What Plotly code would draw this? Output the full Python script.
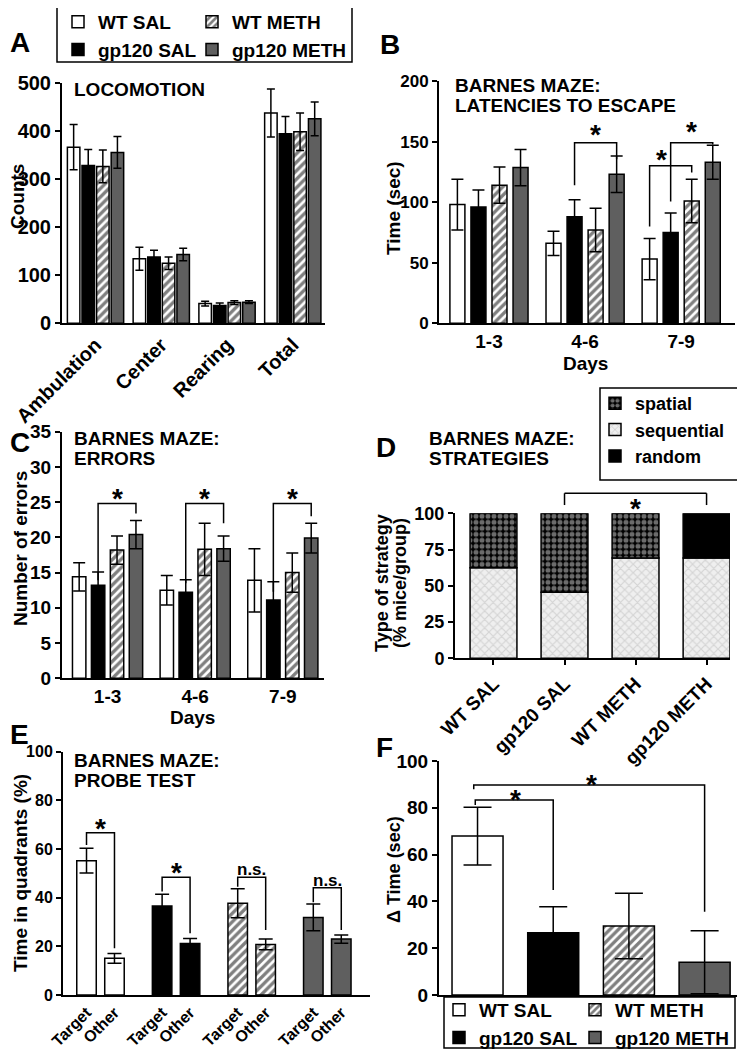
import plotly.graph_objects as go

OFF = 8  # the page body margin shifts the figure by this much
W, H = 737, 1042
FONT = "Arial, 'Liberation Sans', Helvetica, sans-serif"


def fx(px):
    return (px - OFF) / W


def fy(py):
    return 1 - (py - OFF) / H


group_names = ["WT SAL", "gp120 SAL", "WT METH", "gp120 METH"]

# ---------------- A: locomotion ----------------
loco_cats = ["Ambulation", "Center", "Rearing", "Total"]
loco_wt_sal = [366, 134, 41, 437]
loco_wt_sal_err = [47, 24, 5, 50]
loco_gp_sal = [328, 138, 37, 394]
loco_gp_sal_err = [33, 14, 5, 36]
loco_wt_meth = [326, 125, 43, 398]
loco_wt_meth_err = [34, 13, 4, 39]
loco_gp_meth = [355, 143, 44, 425]
loco_gp_meth_err = [33, 13, 3, 35]

# ---------------- B: latencies ----------------
day_cats = ["1-3", "4-6", "7-9"]
lat_wt_sal = [98, 66, 53]
lat_wt_sal_err = [21, 10, 17]
lat_gp_sal = [96, 88, 75]
lat_gp_sal_err = [14, 14, 16]
lat_wt_meth = [114, 77, 101]
lat_wt_meth_err = [15, 18, 18]
lat_gp_meth = [128.5, 123, 133]
lat_gp_meth_err = [15, 15, 14]

b_sig_group = [1, 2, 2]
b_sig_left_bar = [1, 0, 1]
b_sig_right_bar = [3, 2, 3]
b_sig_left_y = [114, 80, 100.5]
b_sig_top_y = [149, 130, 149]
b_sig_right_y = [135.5, 124.5, 147.5]
b_star_y = [161, 140, 163]
b_star_dx = [0, -0.1, 0]

# ---------------- C: errors ----------------
err_wt_sal = [14.4, 12.5, 13.9]
err_wt_sal_sem = [2.0, 2.1, 4.5]
err_gp_sal = [13.2, 12.2, 11.1]
err_gp_sal_sem = [1.9, 1.8, 2.6]
err_wt_meth = [18.2, 18.3, 15.0]
err_wt_meth_sem = [2.0, 3.7, 2.8]
err_gp_meth = [20.4, 18.4, 19.9]
err_gp_meth_sem = [2.0, 1.8, 2.1]

c_sig_left_y = [13.9, 13.5, 12.3]
c_sig_top_y = [24.8, 24.8, 24.8]
c_sig_right_y = [23.4, 22.0, 23.0]
c_star_y = [26.4, 26.4, 26.4]

# ---------------- D: strategies ----------------
strat_sequential = [62.5, 45.5, 69.2, 69.2]
strat_spatial = [37.5, 54.5, 30.8, None]
strat_random = [None, None, None, 30.8]
d_sig = dict(left=1, right=3, yl=105.7, top=113.8, yr=105.7, star=119.5)

# ---------------- E: probe test ----------------
probe_ticks = ["Target", "Other"]
probe_target = [55.2, 36.6, 37.7, 31.9]
probe_target_err = [5.1, 4.8, 6.0, 5.5]
probe_other = [15.1, 21.2, 20.8, 23.0]
probe_other_err = [2.0, 2.0, 2.2, 1.7]

e_sig_left_y = [61.7, 42.5, 44.5, 38.1]
e_sig_top_y = [66.7, 48.4, 48.4, 44.1]
e_sig_right_y = [19.2, 25.4, 26.7, 26.7]
e_sig_label = ["*", "*", "n.s.", "n.s."]
e_sig_label_y = [70.7, 52.7, 51.4, 47.0]

# ---------------- F: delta time ----------------
delta_mean = [67.9, 26.6, 29.5, 14.0]
delta_err = [12.3, 11.1, 14.0, 13.5]
f_sig_left = [0, 0]
f_sig_right = [1, 3]
f_sig_left_dx = [-0.03, -0.05]
f_sig_left_y = [81.2, 87.9]
f_sig_top_y = [83.3, 89.7]
f_sig_right_y = [44.9, 35.6]
f_star_y = [86.3, 92.7]

GRAY = "#5f5f5f"


def bar_marker(g):
    line = dict(color="black", width=1.5)
    if g == "WT SAL":
        return dict(color="white", line=line)
    if g == "gp120 SAL":
        return dict(color="black", line=line)
    if g == "WT METH":
        return dict(color="white", line=line,
                    pattern=dict(shape="/", fgcolor="black", bgcolor="white",
                                 size=6, solidity=0.55))
    return dict(color=GRAY, line=line)


def eb(arr, w):
    return dict(type="data", array=arr, visible=True, color="black",
                thickness=1.5, width=w)


fig = go.Figure()


def add_grouped(series, errors, xa, ya, stride, width, capw, legends=None):
    n = len(series[0])
    for k, g in enumerate(group_names):
        kw = {}
        if legends:
            kw["legend"] = legends[k]
        fig.add_trace(go.Bar(
            x=list(range(n)), y=series[k], name=g,
            width=width, offset=(k - 1.5) * stride - width / 2,
            marker=bar_marker(g), error_y=eb(errors[k], capw),
            xaxis=xa, yaxis=ya, showlegend=bool(legends),
            hoverinfo="skip", **kw))


def add_bracket(xa, ya, xl, xr, yl, ytop, yr):
    fig.add_trace(go.Scatter(
        x=[xl, xl, xr, xr], y=[yl, ytop, ytop, yr], mode="lines",
        line=dict(color="black", width=1.5), xaxis=xa, yaxis=ya,
        showlegend=False, hoverinfo="skip"))


def add_label(xref, yref, x, y, text="*", size=28, yshift=-6):
    fig.add_annotation(x=x, y=y, xref=xref, yref=yref, text=text,
                       showarrow=False, yshift=yshift,
                       font=dict(size=size, family=FONT, weight="bold",
                                 color="black"))


# A
A_STRIDE, A_W = 0.222, 0.19
add_grouped([loco_wt_sal, loco_gp_sal, loco_wt_meth, loco_gp_meth],
            [loco_wt_sal_err, loco_gp_sal_err, loco_wt_meth_err, loco_gp_meth_err],
            "x", "y", A_STRIDE, A_W, 4,
            legends=["legend", "legend", "legend2", "legend2"])

# B
B_STRIDE, B_W = 0.219, 0.156
add_grouped([lat_wt_sal, lat_gp_sal, lat_wt_meth, lat_gp_meth],
            [lat_wt_sal_err, lat_gp_sal_err, lat_wt_meth_err, lat_gp_meth_err],
            "x2", "y2", B_STRIDE, B_W, 6)
for i, g in enumerate(b_sig_group):
    xl = g + (b_sig_left_bar[i] - 1.5) * B_STRIDE
    xr = g + (b_sig_right_bar[i] - 1.5) * B_STRIDE
    add_bracket("x2", "y2", xl, xr, b_sig_left_y[i], b_sig_top_y[i], b_sig_right_y[i])
    add_label("x2", "y2", (xl + xr) / 2 + b_star_dx[i], b_star_y[i])

# C
C_STRIDE, C_W = 0.216, 0.153
add_grouped([err_wt_sal, err_gp_sal, err_wt_meth, err_gp_meth],
            [err_wt_sal_sem, err_gp_sal_sem, err_wt_meth_sem, err_gp_meth_sem],
            "x3", "y3", C_STRIDE, C_W, 6)
for g in range(len(day_cats)):
    xl = g + (1 - 1.5) * C_STRIDE
    xr = g + (3 - 1.5) * C_STRIDE
    add_bracket("x3", "y3", xl, xr, c_sig_left_y[g], c_sig_top_y[g], c_sig_right_y[g])
    add_label("x3", "y3", (xl + xr) / 2, c_star_y[g])

# D
D_W = 0.66
spatial_base = strat_sequential
random_base = [s + (p or 0) for s, p in zip(strat_sequential, strat_spatial)]
dline = dict(color="black", width=1.5)
fig.add_trace(go.Bar(
    x=list(range(4)), y=strat_sequential, name="sequential", width=D_W,
    offset=-D_W / 2, xaxis="x4", yaxis="y4", legend="legend3", legendrank=2,
    marker=dict(color="#ececec", line=dline,
                pattern=dict(shape="x", fgcolor="#b8b8b8", bgcolor="#efefef",
                             size=6, solidity=0.35)),
    hoverinfo="skip"))
fig.add_trace(go.Bar(
    x=list(range(4)), y=strat_spatial, base=spatial_base, name="spatial",
    width=D_W, offset=-D_W / 2, xaxis="x4", yaxis="y4", legend="legend3",
    legendrank=1,
    marker=dict(color="black", line=dline,
                pattern=dict(shape=".", fgcolor="#d8d8d8", bgcolor="black",
                             size=6, solidity=0.55)),
    hoverinfo="skip"))
fig.add_trace(go.Bar(
    x=list(range(4)), y=strat_random, base=random_base, name="random",
    width=D_W, offset=-D_W / 2, xaxis="x4", yaxis="y4", legend="legend3",
    legendrank=3, marker=dict(color="black", line=dline), hoverinfo="skip"))
for xa0, ya0, xa1, ya1 in [
        (d_sig["left"], d_sig["yl"], d_sig["left"], d_sig["top"]),
        (d_sig["left"], d_sig["top"], d_sig["right"], d_sig["top"]),
        (d_sig["right"], d_sig["top"], d_sig["right"], d_sig["yr"])]:
    fig.add_shape(type="line", xref="x4", yref="y4 domain",
                  x0=xa0, x1=xa1, y0=ya0 / 100, y1=ya1 / 100,
                  line=dict(color="black", width=1.5))
add_label("x4", "y4 domain", (d_sig["left"] + d_sig["right"]) / 2,
          d_sig["star"] / 100)

# E
E_SEP, E_W = 0.37, 0.258
for g, name in enumerate(group_names):
    fig.add_trace(go.Bar(
        x=[g - E_SEP / 2, g + E_SEP / 2],
        y=[probe_target[g], probe_other[g]], width=E_W, offset=-E_W / 2,
        marker=bar_marker(name),
        error_y=eb([probe_target_err[g], probe_other_err[g]], 7),
        xaxis="x5", yaxis="y5", showlegend=False, hoverinfo="skip"))
    xl, xr = g - E_SEP / 2, g + E_SEP / 2
    add_bracket("x5", "y5", xl, xr, e_sig_left_y[g], e_sig_top_y[g], e_sig_right_y[g])
    if e_sig_label[g] == "*":
        add_label("x5", "y5", (xl + xr) / 2, e_sig_label_y[g])
    else:
        add_label("x5", "y5", (xl + xr) / 2, e_sig_label_y[g], text="n.s.",
                  size=17, yshift=0)
e_tickvals = [g + s * E_SEP / 2 for g in range(4) for s in (-1, 1)]
e_ticktext = probe_ticks * 4

# F
F_W = 0.674
for g, name in enumerate(group_names):
    fig.add_trace(go.Bar(
        x=[g], y=[delta_mean[g]], width=F_W, offset=-F_W / 2, name=name,
        marker=bar_marker(name), error_y=eb([delta_err[g]], 14),
        xaxis="x6", yaxis="y6", legend="legend4" if g in (0, 1) else "legend5",
        hoverinfo="skip"))
for i in range(len(f_sig_left)):
    xl = f_sig_left[i] + f_sig_left_dx[i]
    xr = f_sig_right[i]
    add_bracket("x6", "y6", xl, xr, f_sig_left_y[i], f_sig_top_y[i], f_sig_right_y[i])
    add_label("x6", "y6", (f_sig_left[i] + f_sig_right[i]) / 2, f_star_y[i])


# ---------------- axes ----------------
def tf(size):
    return dict(size=size, family=FONT, weight="bold", color="black")


def xax(dom, rng, **kw):
    d = dict(domain=[fx(dom[0]), fx(dom[1])], range=rng, showline=True,
             linecolor="black", linewidth=2, showgrid=False, zeroline=False,
             ticks="", ticklen=0, tickfont=tf(19), fixedrange=True)
    d.update(kw)
    return d


def yax(dom, rng, dtick, fs, **kw):
    d = dict(domain=[fy(dom[1]), fy(dom[0])], range=rng, dtick=dtick,
             showline=True, linecolor="black", linewidth=2, showgrid=False,
             zeroline=False, ticks="outside", ticklen=5, tickwidth=2,
             tickcolor="black", tickfont=tf(fs), fixedrange=True)
    d.update(kw)
    return d


fig.update_layout(
    xaxis=xax((62, 325), [-0.51, 3.49], tickvals=[0, 1, 2, 3],
              ticktext=loco_cats, tickangle=-45, anchor="y", tickfont=tf(20)),
    yaxis=yax((82.7, 323.3), [0, 500], 100, 20, anchor="x"),
    xaxis2=xax((439, 735), [-0.52, 2.56], tickvals=[0, 1, 2],
               ticktext=day_cats, anchor="y2"),
    yaxis2=yax((81, 323.3), [0, 200], 50, 17, anchor="x2"),
    xaxis3=xax((62, 324), [-0.52, 2.47], tickvals=[0, 1, 2],
               ticktext=day_cats, anchor="y3"),
    yaxis3=yax((431.7, 678.3), [0, 35], 5, 19, anchor="x3"),
    xaxis4=xax((455, 730), [-0.542, 3.33], tickvals=[0, 1, 2, 3],
               ticktext=group_names, tickangle=-45, anchor="y4",
               ticks="outside", ticklen=5, tickwidth=1.5, tickcolor="black"),
    yaxis4=yax((513.3, 658.3), [0, 100], 25, 18, anchor="x4"),
    xaxis5=xax((63, 370), [-0.496, 3.565], tickvals=e_tickvals,
               ticktext=e_ticktext, tickangle=-45, anchor="y5",
               tickfont=tf(16)),
    yaxis5=yax((751.7, 995), [0, 100], 20, 16, anchor="x5"),
    xaxis6=xax((439, 742), [-0.509, 3.494], showticklabels=False, anchor="y6"),
    yaxis6=yax((761, 995), [0, 100], 20, 19, anchor="x6"),
)


# ---------------- legends ----------------
def leg(x_px, y_px, fs):
    return dict(x=fx(x_px), y=fy(y_px), xanchor="left", yanchor="top",
                orientation="v", bgcolor="rgba(0,0,0,0)", borderwidth=0,
                traceorder="normal", font=tf(fs))


fig.update_layout(
    legend=leg(58, 3, 19),
    legend2=leg(192, 3, 19),
    legend3=leg(595, 385, 18),
    legend4=leg(439, 991, 19),
    legend5=leg(575, 991, 19),
)

for x0, y0, x1, y1 in [(57, 6, 352, 62), (600, 388, 742, 480), (444, 997, 735, 1048)]:
    fig.add_shape(type="rect", xref="paper", yref="paper", x0=fx(x0), x1=fx(x1),
                  y0=fy(y1), y1=fy(y0), line=dict(color="black", width=1.5))


# ---------------- text annotations ----------------
def txt(text, x_px, y_px, size, angle=0, xanchor="left"):
    fig.add_annotation(text=text, x=fx(x_px), y=fy(y_px), xref="paper",
                       yref="paper", showarrow=False, xanchor=xanchor,
                       yanchor="middle", textangle=angle, font=tf(size))


for letter, x, y in [("A", 8, 42), ("B", 378, 45), ("C", 8, 442),
                     ("D", 374, 448), ("E", 8, 734), ("F", 374, 747)]:
    txt(letter, x, y, 28)

for t, x, y in [("LOCOMOTION", 72, 90),
                ("BARNES MAZE:", 453, 86), ("LATENCIES TO ESCAPE", 453, 106),
                ("BARNES MAZE:", 72, 438), ("ERRORS", 72, 458),
                ("BARNES MAZE:", 427, 438), ("STRATEGIES", 427, 458),
                ("BARNES MAZE:", 72, 760), ("PROBE TEST", 72, 780)]:
    txt(t, x, y, 19)

for t, x, y, s in [("Counts", 17, 197, 19), ("Time (sec)", 393, 208, 19),
                   ("Number of errors", 20, 549, 19),
                   ("Type of strategy", 382, 583, 18),
                   ("(% mice/group)", 400, 583, 18),
                   ("Time in quadrants (%)", 20, 873, 19),
                   ("Δ Time (sec)", 394, 869, 18)]:
    txt(t, x, y, s, angle=-90, xanchor="center")

txt("Days", 585, 364, 19, xanchor="center")
txt("Days", 192, 717, 19, xanchor="center")

fig.update_layout(
    width=W, height=H, margin=dict(l=0, r=0, t=0, b=0, autoexpand=False),
    paper_bgcolor="white", plot_bgcolor="white", barmode="group",
    font=dict(family=FONT, weight="bold", color="black"),
    showlegend=True,
)

fig.write_html("out.html")
